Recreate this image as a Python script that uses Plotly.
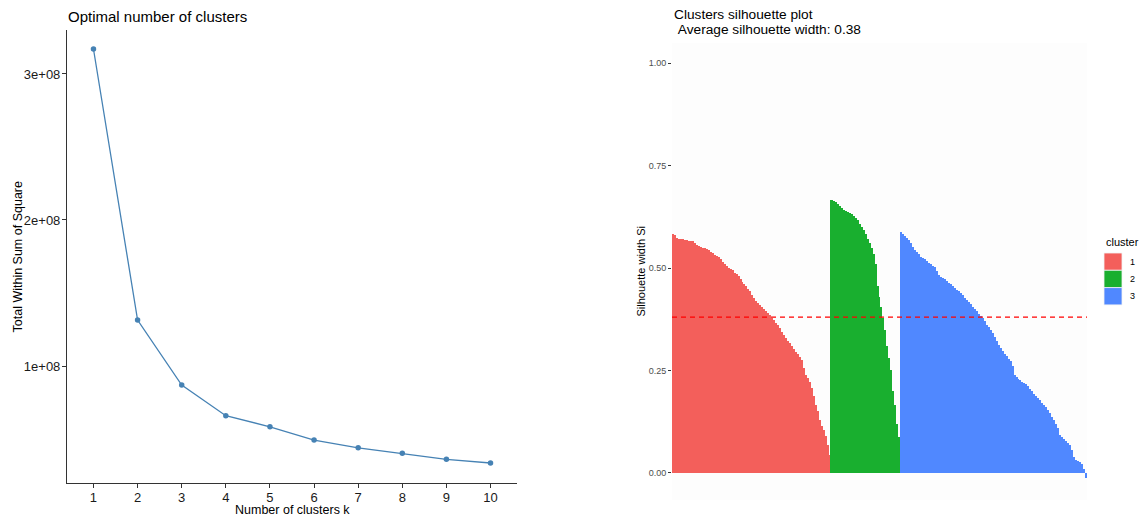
import plotly.graph_objects as go

# ---------------- data ----------------
k_values = list(range(1, 11))
wss = [3.171e8, 1.315e8, 0.870e8, 0.660e8, 0.584e8, 0.493e8, 0.440e8, 0.402e8, 0.361e8, 0.336e8]
wss_ticks = [1e8, 2e8, 3e8]
wss_ticktext = ["1e+08", "2e+08", "3e+08"]

sil_c1 = [0.582, 0.580, 0.574, 0.572, 0.571, 0.570, 0.569, 0.568, 0.567, 0.566,
          0.565, 0.560, 0.556, 0.553, 0.551, 0.550, 0.548, 0.547, 0.545, 0.540,
          0.536, 0.532, 0.529, 0.526, 0.521, 0.515, 0.510, 0.505, 0.501, 0.498,
          0.494, 0.489, 0.485, 0.480, 0.474, 0.467, 0.461, 0.456, 0.450, 0.443,
          0.435, 0.427, 0.420, 0.414, 0.409, 0.404, 0.400, 0.395, 0.390, 0.385,
          0.378, 0.372, 0.366, 0.360, 0.354, 0.345, 0.337, 0.330, 0.323, 0.317,
          0.309, 0.302, 0.296, 0.290, 0.283, 0.276, 0.255, 0.240, 0.232, 0.223,
          0.208, 0.187, 0.165, 0.150, 0.128, 0.115, 0.105, 0.090, 0.068, 0.045]
sil_c2 = [0.667, 0.664, 0.661, 0.657, 0.652, 0.647, 0.642, 0.638, 0.636, 0.634,
          0.631, 0.628, 0.623, 0.616, 0.608, 0.600, 0.592, 0.582, 0.572, 0.562,
          0.550, 0.535, 0.510, 0.455, 0.430, 0.405, 0.378, 0.350, 0.310, 0.280,
          0.250, 0.200, 0.165, 0.120, 0.088]
sil_c3 = [0.587, 0.583, 0.578, 0.574, 0.568, 0.560, 0.552, 0.545, 0.540, 0.534,
          0.528, 0.524, 0.521, 0.517, 0.513, 0.509, 0.505, 0.503, 0.492, 0.482,
          0.478, 0.475, 0.472, 0.468, 0.464, 0.460, 0.457, 0.452, 0.447, 0.443,
          0.439, 0.435, 0.428, 0.421, 0.416, 0.412, 0.406, 0.400, 0.394, 0.388,
          0.382, 0.377, 0.370, 0.362, 0.355, 0.348, 0.341, 0.331, 0.322, 0.312,
          0.305, 0.298, 0.291, 0.285, 0.278, 0.273, 0.262, 0.238, 0.233, 0.229,
          0.226, 0.222, 0.219, 0.216, 0.212, 0.206, 0.199, 0.193, 0.188, 0.183,
          0.177, 0.171, 0.166, 0.160, 0.154, 0.146, 0.137, 0.128, 0.119, 0.110,
          0.093, 0.088, 0.084, 0.079, 0.074, 0.069, 0.055, 0.038, 0.032, 0.029,
          0.026, 0.022, 0.010, -0.012]
cluster_names = ["1", "2", "3"]
cluster_colors = ["#F35F5B", "#19AF2F", "#5088FF"]
avg_sil = 0.38
sil_ticks = [0.0, 0.25, 0.5, 0.75, 1.0]
sil_ticktext = ["0.00", "0.25", "0.50", "0.75", "1.00"]

# ---------------- layout helpers ----------------
W, H = 1139, 520
FONT = "Liberation Sans, Arial, Helvetica, sans-serif"


def px(x):
    return x / W


def py(y):
    return 1 - y / H


fig = go.Figure()

# Left: elbow plot
fig.add_trace(go.Scatter(
    x=k_values, y=wss, mode="lines+markers",
    line=dict(color="#4682B4", width=1.3),
    marker=dict(color="#4682B4", size=5.5),
    xaxis="x", yaxis="y", showlegend=False, hoverinfo="x+y"))

# Right: silhouette bars
start = 1
for vals, name, col in zip([sil_c1, sil_c2, sil_c3], cluster_names, cluster_colors):
    xs = list(range(start, start + len(vals)))
    start += len(vals)
    fig.add_trace(go.Bar(
        x=xs, y=vals, width=1, name=name,
        marker=dict(color=col, line=dict(width=0)),
        xaxis="x2", yaxis="y2", showlegend=False))
n_total = start - 1

axis_line = "#333333"
fig.update_layout(
    width=W, height=H,
    margin=dict(l=0, r=0, t=0, b=0),
    paper_bgcolor="white", plot_bgcolor="rgba(0,0,0,0)",
    font=dict(family=FONT, color="#1A1A1A"),
    bargap=0, barmode="overlay",
    xaxis=dict(domain=[px(67), px(517)], range=[0.4, 10.6], anchor="y",
               tickvals=k_values, ticktext=[str(k) for k in k_values],
               showline=True, linecolor=axis_line, linewidth=1.1,
               ticks="outside", ticklen=4, tickcolor=axis_line, tickwidth=1,
               ticklabelstandoff=-2,
               showgrid=False, zeroline=False,
               tickfont=dict(size=13, color="#1A1A1A", family=FONT)),
    yaxis=dict(domain=[py(483), py(30)], range=[0.199e8, 3.301e8], anchor="x",
               tickvals=wss_ticks, ticktext=wss_ticktext,
               showline=True, linecolor=axis_line, linewidth=1.1,
               ticks="outside", ticklen=4, tickcolor=axis_line, tickwidth=1,
               ticklabelstandoff=-1,
               showgrid=False, zeroline=False,
               tickfont=dict(size=13, color="#1A1A1A", family=FONT)),
    xaxis2=dict(domain=[px(672), px(1087)], range=[0.5, n_total + 0.5], anchor="y2",
                showticklabels=False, ticks="", showline=False, showgrid=False,
                zeroline=False),
    yaxis2=dict(domain=[py(500), py(43)], range=[-0.066, 1.049], anchor="x2",
                tickvals=sil_ticks, ticktext=sil_ticktext,
                ticks="outside", ticklen=3, tickcolor=axis_line, tickwidth=1,
                showline=False, showgrid=False, zeroline=False,
                tickfont=dict(size=9, color="#4D4D4D", family=FONT)),
)

shapes = [
    # right panel background
    dict(type="rect", xref="paper", yref="paper",
         x0=px(672), x1=px(1087), y0=py(500), y1=py(43),
         fillcolor="#FDFDFD", line=dict(width=0), layer="below"),
    # average silhouette line
    dict(type="line", xref="x2 domain", yref="y2", x0=0, x1=1, y0=avg_sil, y1=avg_sil,
         line=dict(color="#FF0000", width=1.2, dash="5px,4px"), layer="above"),
]

annotations = [
    dict(text="Optimal number of clusters", x=px(66), y=py(16), xref="paper", yref="paper",
         xanchor="left", yanchor="middle", showarrow=False,
         font=dict(size=15, color="#000000", family=FONT)),
    dict(text="Total Within Sum of Square", x=px(17), y=py(256.5), xref="paper", yref="paper",
         xanchor="center", yanchor="middle", textangle=-90, showarrow=False,
         font=dict(size=12.5, color="#000000", family=FONT)),
    dict(text="Number of clusters k", x=px(292), y=py(510), xref="paper", yref="paper",
         xanchor="center", yanchor="middle", showarrow=False,
         font=dict(size=12.5, color="#000000", family=FONT)),
    dict(text="Clusters silhouette plot", x=px(672), y=py(14), xref="paper", yref="paper",
         xanchor="left", yanchor="middle", showarrow=False,
         font=dict(size=13.7, color="#000000", family=FONT)),
    dict(text="\u00a0Average silhouette width: " + f"{avg_sil:.2f}", x=px(672), y=py(29),
         xref="paper", yref="paper",
         xanchor="left", yanchor="middle", showarrow=False,
         font=dict(size=13.7, color="#000000", family=FONT)),
    dict(text="Silhouette width Si", x=px(640), y=py(271.5), xref="paper", yref="paper",
         xanchor="center", yanchor="middle", textangle=-90, showarrow=False,
         font=dict(size=11, color="#000000", family=FONT)),
    dict(text="cluster", x=px(1104), y=py(242), xref="paper", yref="paper",
         xanchor="left", yanchor="middle", showarrow=False,
         font=dict(size=11, color="#000000", family=FONT)),
]

# manual legend (keys + labels)
key_top = 253
key_size = 17.3
for i, (name, col) in enumerate(zip(cluster_names, cluster_colors)):
    y0 = key_top + i * key_size
    shapes.append(dict(type="rect", xref="paper", yref="paper",
                       x0=px(1104), x1=px(1122), y0=py(y0 + key_size), y1=py(y0),
                       fillcolor=col, line=dict(color="#F2F2F2", width=0.8)))
    annotations.append(dict(text=name, x=px(1128), y=py(y0 + key_size / 2),
                            xref="paper", yref="paper", xanchor="left", yanchor="middle",
                            showarrow=False,
                            font=dict(size=9, color="#000000", family=FONT)))

fig.update_layout(shapes=shapes, annotations=annotations)

fig.write_html(
    "out.html",
    config={"displayModeBar": False},
    post_script="document.body.style.margin='0';document.body.style.padding='0';"
                "document.documentElement.style.overflow='hidden';",
)
